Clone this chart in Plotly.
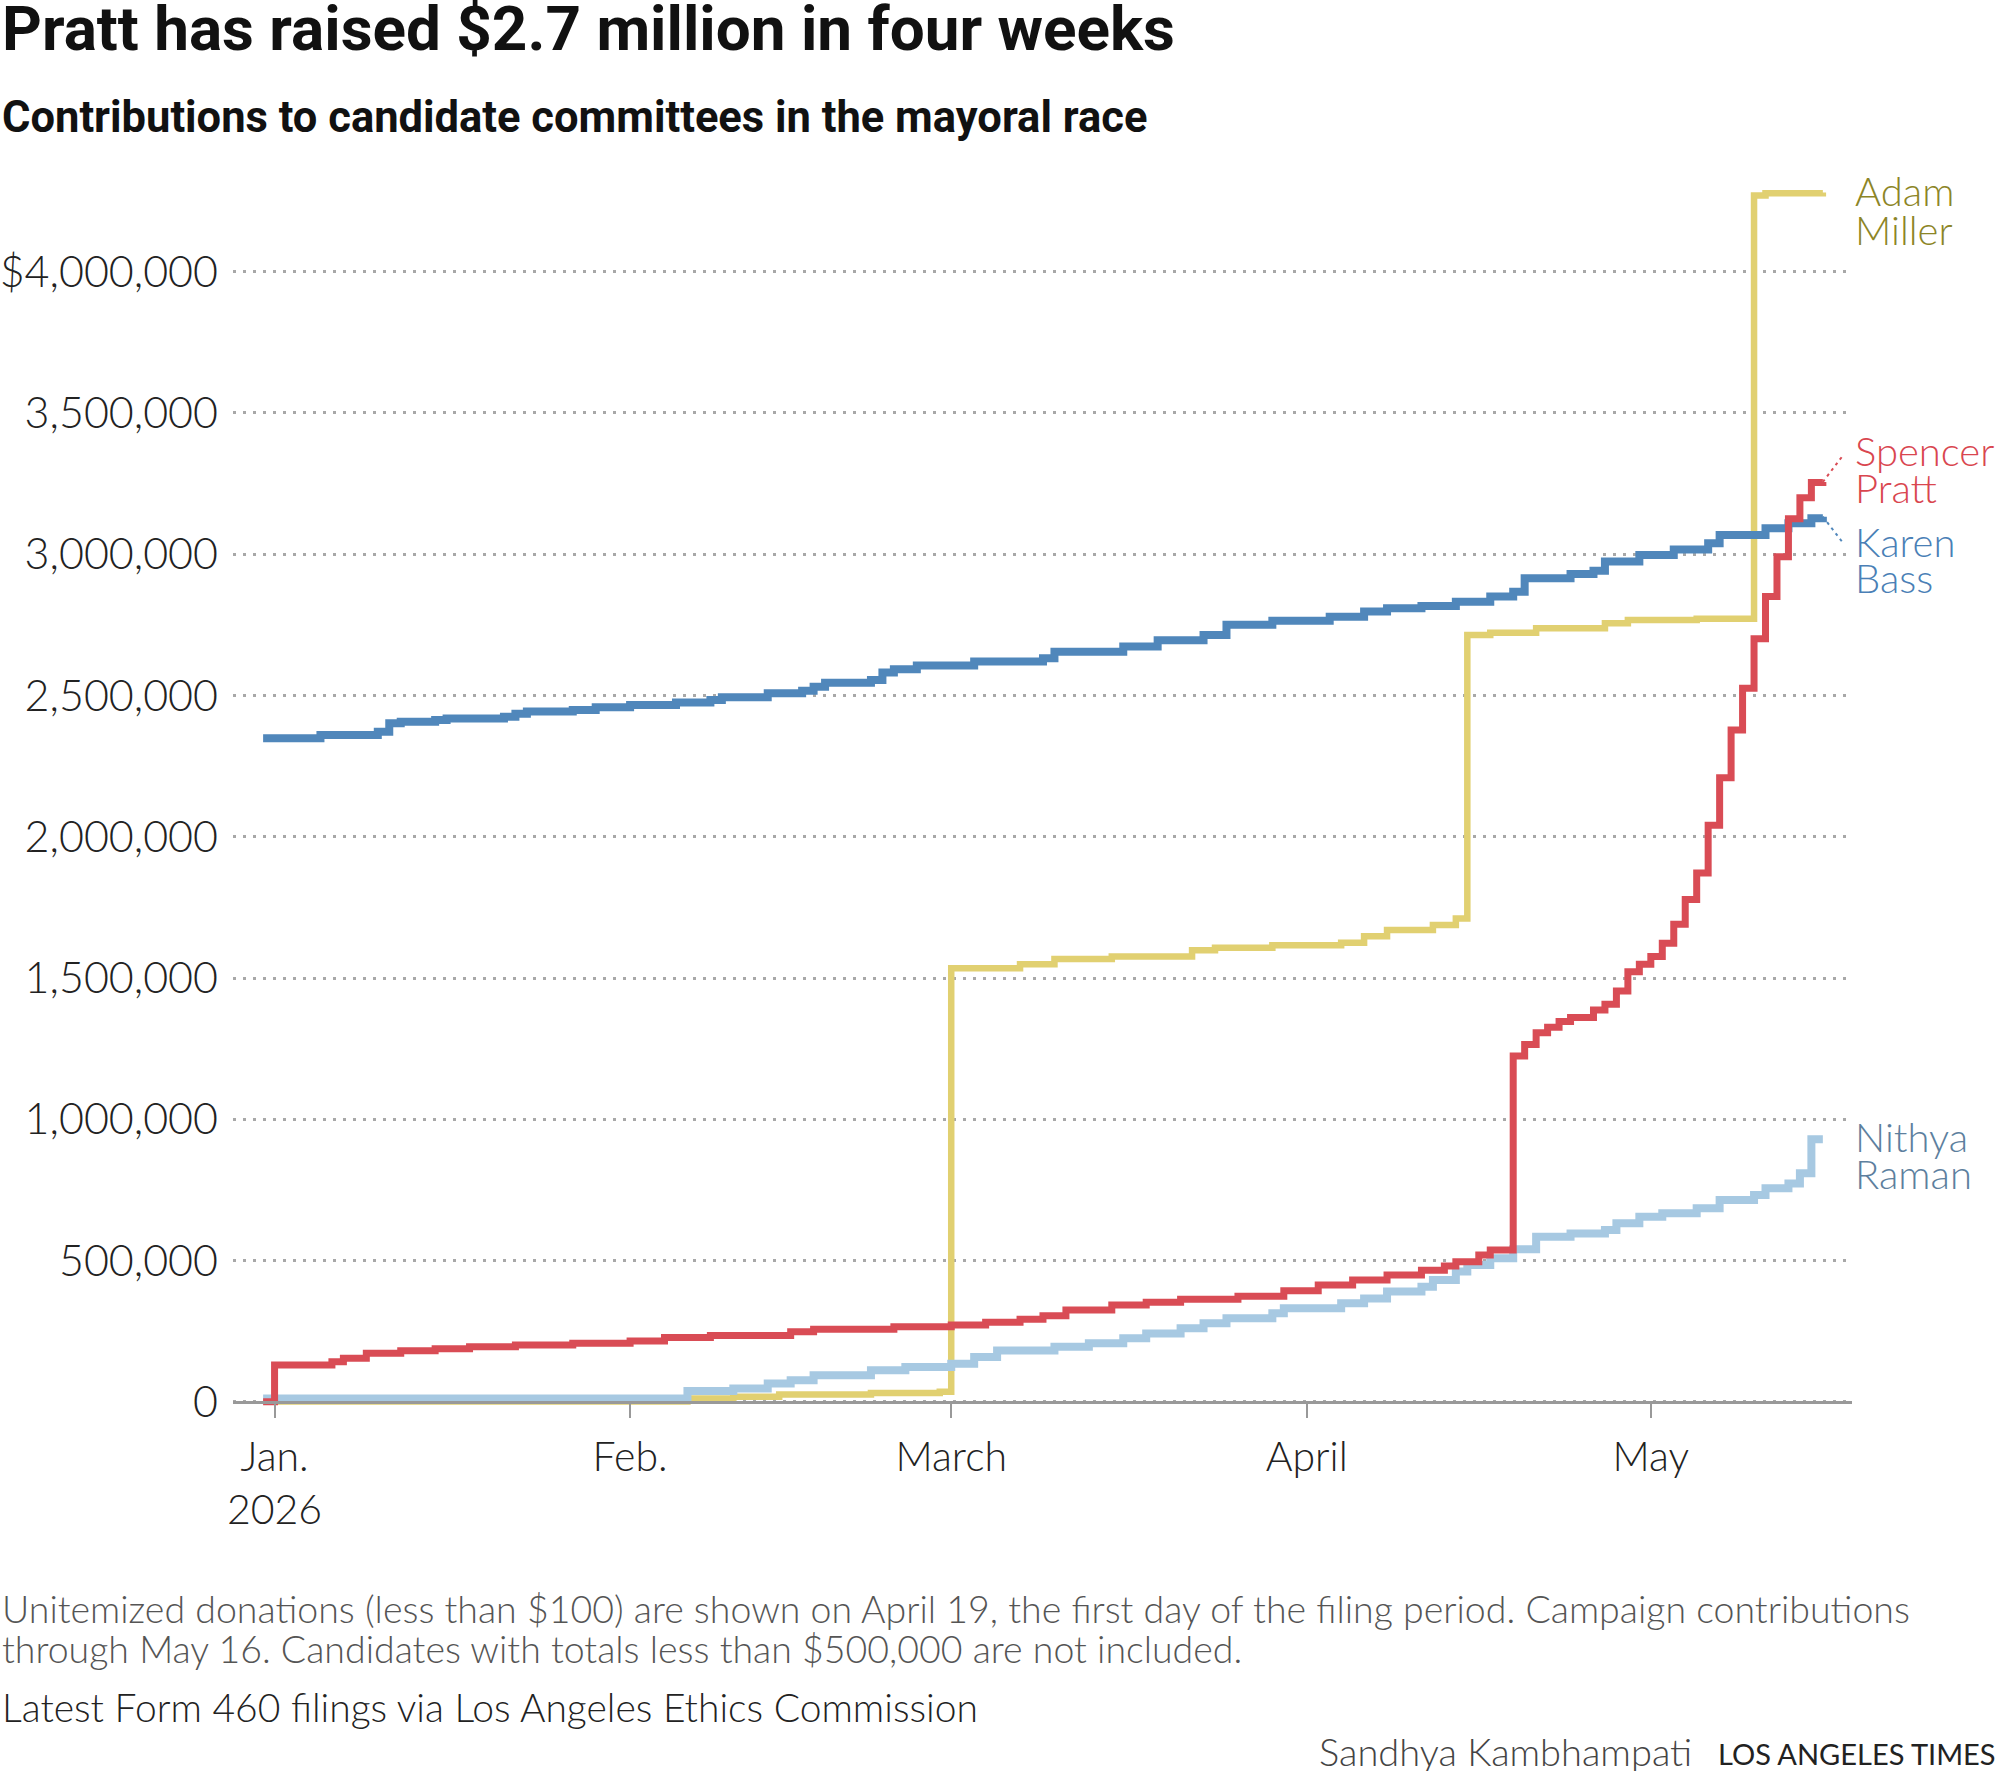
import plotly.graph_objects as go

FIG_W, FIG_H = 2000, 1771
PLOT_L, PLOT_R = 233, 1852
PLOT_T, PLOT_B = 180, 1420
AXIS_Y = 1401.8
Y_PER_PX = 500000 / 141.26

BODY_FONT = "Lato"
HEAD_FONT = "Roboto"

bass_dates = [
    "2025-12-31", "2026-01-05", "2026-01-10", "2026-01-11", "2026-01-12", "2026-01-15",
    "2026-01-16", "2026-01-21", "2026-01-22", "2026-01-23", "2026-01-27", "2026-01-29",
    "2026-02-01", "2026-02-05", "2026-02-08", "2026-02-09", "2026-02-13", "2026-02-16",
    "2026-02-17", "2026-02-18", "2026-02-22", "2026-02-23", "2026-02-24", "2026-02-26",
    "2026-03-03", "2026-03-09", "2026-03-10", "2026-03-16", "2026-03-19", "2026-03-23",
    "2026-03-25", "2026-03-29", "2026-04-03", "2026-04-06", "2026-04-08", "2026-04-11",
    "2026-04-14", "2026-04-17", "2026-04-19", "2026-04-20", "2026-04-24", "2026-04-26",
    "2026-04-27", "2026-04-30", "2026-05-03", "2026-05-06", "2026-05-07", "2026-05-11",
    "2026-05-13", "2026-05-15", "2026-05-16",
]
bass_totals = [
    2349000, 2360000, 2372000, 2402000, 2407000, 2413000,
    2419000, 2425000, 2435000, 2443000, 2449000, 2458000,
    2466000, 2475000, 2484000, 2494000, 2508000, 2517000,
    2531000, 2545000, 2555000, 2581000, 2593000, 2606000,
    2620000, 2632000, 2655000, 2673000, 2696000, 2714000,
    2750000, 2765000, 2779000, 2797000, 2809000, 2817000,
    2832000, 2850000, 2867000, 2915000, 2930000, 2942000,
    2974000, 2997000, 3017000, 3039000, 3068000, 3092000,
    3110000, 3127000, 3133000,
]

pratt_dates = [
    "2025-12-31", "2026-01-01", "2026-01-06", "2026-01-07", "2026-01-09", "2026-01-12",
    "2026-01-15", "2026-01-18", "2026-01-22", "2026-01-27", "2026-02-01", "2026-02-04",
    "2026-02-08", "2026-02-15", "2026-02-17", "2026-02-24", "2026-03-01", "2026-03-04",
    "2026-03-07", "2026-03-09", "2026-03-11", "2026-03-15", "2026-03-18", "2026-03-21",
    "2026-03-26", "2026-03-30", "2026-04-02", "2026-04-05", "2026-04-08", "2026-04-11",
    "2026-04-13", "2026-04-14", "2026-04-16", "2026-04-17", "2026-04-19", "2026-04-20",
    "2026-04-21", "2026-04-22", "2026-04-23", "2026-04-24", "2026-04-26", "2026-04-27",
    "2026-04-28", "2026-04-29", "2026-04-30", "2026-05-01", "2026-05-02", "2026-05-03",
    "2026-05-04", "2026-05-05", "2026-05-06", "2026-05-07", "2026-05-08", "2026-05-09",
    "2026-05-10", "2026-05-11", "2026-05-12", "2026-05-13", "2026-05-14", "2026-05-15",
    "2026-05-16",
]
pratt_totals = [
    0, 130000, 142000, 154000, 172000, 181000,
    188000, 195000, 201000, 207000, 215000, 228000,
    235000, 248000, 257000, 266000, 272000, 282000,
    292000, 305000, 325000, 343000, 352000, 363000,
    374000, 393000, 413000, 431000, 449000, 466000,
    481000, 496000, 520000, 537000, 1224000, 1265000,
    1306000, 1326000, 1346000, 1360000, 1387000, 1407000,
    1454000, 1522000, 1549000, 1576000, 1623000, 1690000,
    1778000, 1872000, 2041000, 2209000, 2378000, 2526000,
    2701000, 2850000, 2991000, 3126000, 3200000, 3254000,
    3256000,
]

miller_dates = [
    "2026-01-01", "2026-02-06", "2026-02-10", "2026-02-14", "2026-02-22", "2026-02-28",
    "2026-03-01", "2026-03-07", "2026-03-10", "2026-03-15", "2026-03-22", "2026-03-24",
    "2026-03-29", "2026-04-04", "2026-04-06", "2026-04-08", "2026-04-12", "2026-04-14",
    "2026-04-15", "2026-04-17", "2026-04-21", "2026-04-27", "2026-04-29", "2026-05-05",
    "2026-05-10", "2026-05-11", "2026-05-16",
]
miller_totals = [
    1000, 12000, 18000, 26000, 31000, 36000,
    1535000, 1549000, 1567000, 1576000, 1598000, 1607000,
    1616000, 1625000, 1648000, 1670000, 1688000, 1711000,
    2714000, 2722000, 2738000, 2756000, 2767000, 2772000,
    4270000, 4278000, 4280000,
]

raman_dates = [
    "2025-12-31", "2026-02-06", "2026-02-10", "2026-02-13", "2026-02-15", "2026-02-17",
    "2026-02-22", "2026-02-25", "2026-03-01", "2026-03-03", "2026-03-05", "2026-03-10",
    "2026-03-13", "2026-03-16", "2026-03-18", "2026-03-21", "2026-03-23", "2026-03-25",
    "2026-03-29", "2026-03-30", "2026-04-04", "2026-04-06", "2026-04-08", "2026-04-11",
    "2026-04-12", "2026-04-14", "2026-04-15", "2026-04-17", "2026-04-19", "2026-04-21",
    "2026-04-24", "2026-04-27", "2026-04-28", "2026-04-30", "2026-05-02", "2026-05-05",
    "2026-05-07", "2026-05-10", "2026-05-11", "2026-05-13", "2026-05-14", "2026-05-15",
    "2026-05-16",
]
raman_totals = [
    12000, 38000, 47000, 65000, 76000, 94000,
    112000, 123000, 135000, 159000, 182000, 195000,
    207000, 225000, 242000, 260000, 278000, 296000,
    313000, 331000, 349000, 366000, 390000, 407000,
    431000, 461000, 484000, 508000, 540000, 584000,
    596000, 608000, 632000, 655000, 667000, 685000,
    714000, 732000, 756000, 773000, 809000, 929000,
    929000,
]

y_ticks = [0, 500000, 1000000, 1500000, 2000000, 2500000, 3000000, 3500000, 4000000]
y_tick_text = ["0", "500,000", "1,000,000", "1,500,000", "2,000,000",
               "2,500,000", "3,000,000", "3,500,000", "$4,000,000"]
x_ticks = ["2026-01-01", "2026-02-01", "2026-03-01", "2026-04-01", "2026-05-01"]
x_tick_text = ["Jan.<br>2026", "Feb.", "March", "April", "May"]

# label lines: (text, colour, value the line is centred on)
labels = [
    ("Adam", "#8c8526", 4284000),
    ("Miller", "#8c8526", 4149000),
    ("Spencer", "#d9464f", 3364000),
    ("Pratt", "#d9464f", 3234000),
    ("Karen", "#4a7fb6", 3045000),
    ("Bass", "#4a7fb6", 2916000),
    ("Nithya", "#5d7f9e", 939000),
    ("Raman", "#5d7f9e", 808000),
]


def px_x(px):
    return (px - PLOT_L) / (PLOT_R - PLOT_L)


def px_y(py):
    return (PLOT_B - py) / (PLOT_B - PLOT_T)


fig = go.Figure()

series = [
    (miller_dates, miller_totals, "#e1d071", 6.5),
    (raman_dates, raman_totals, "#a7c9e2", 8),
    (bass_dates, bass_totals, "#5087bb", 8),
    (pratt_dates, pratt_totals, "#d94c55", 7),
]
for dates, totals, color, width in series:
    fig.add_trace(
        go.Scatter(
            x=dates,
            y=totals,
            mode="lines",
            line=dict(shape="hv", color=color, width=width),
            hoverinfo="skip",
            showlegend=False,
        )
    )

# dotted leaders from the last points to the Pratt / Bass labels
leaders = [
    (pratt_dates[-1], pratt_totals[-1], 3345000, "#d94c55"),
    (bass_dates[-1], bass_totals[-1], 3045000, "#5087bb"),
]
for d, v, v_end, color in leaders:
    fig.add_shape(
        type="line",
        xref="x",
        yref="y",
        x0=d,
        y0=v,
        x1="2026-05-17 16:00",
        y1=v_end,
        line=dict(color=color, width=2, dash="3px,4px"),
    )

annotations = []
for text, color, yv in labels:
    annotations.append(
        dict(
            text=text,
            xref="paper",
            yref="y",
            x=px_x(1853),
            y=yv,
            xanchor="left",
            yanchor="middle",
            showarrow=False,
            font=dict(family=BODY_FONT, size=40, color=color, weight=300),
        )
    )

annotations += [
    dict(
        text="<b>Pratt has raised $2.7 million in four weeks</b>",
        xref="paper", yref="paper", x=px_x(0), y=px_y(29),
        xanchor="left", yanchor="middle", showarrow=False,
        font=dict(family=HEAD_FONT, size=62, color="#111111"),
    ),
    dict(
        text="<b>Contributions to candidate committees in the mayoral race</b>",
        xref="paper", yref="paper", x=px_x(0), y=px_y(118),
        xanchor="left", yanchor="middle", showarrow=False,
        font=dict(family=HEAD_FONT, size=43.5, color="#111111"),
    ),
    dict(
        text="Unitemized donations (less than $100) are shown on April 19, the first day of the filing period. Campaign contributions",
        xref="paper", yref="paper", x=px_x(0), y=px_y(1608),
        xanchor="left", yanchor="middle", showarrow=False,
        font=dict(family=BODY_FONT, size=37.5, color="#555555", weight=300),
    ),
    dict(
        text="through May 16. Candidates with totals less than $500,000 are not included.",
        xref="paper", yref="paper", x=px_x(0), y=px_y(1649),
        xanchor="left", yanchor="middle", showarrow=False,
        font=dict(family=BODY_FONT, size=37.5, color="#555555", weight=300),
    ),
    dict(
        text="Latest Form 460 filings via Los Angeles Ethics Commission",
        xref="paper", yref="paper", x=px_x(0), y=px_y(1707),
        xanchor="left", yanchor="middle", showarrow=False,
        font=dict(family=BODY_FONT, size=39, color="#222222", weight=300),
    ),
    dict(
        text="Sandhya Kambhampati",
        xref="paper", yref="paper", x=px_x(1694), y=px_y(1751),
        xanchor="right", yanchor="middle", showarrow=False,
        font=dict(family=BODY_FONT, size=38, color="#444444", weight=300),
    ),
    dict(
        text="LOS ANGELES TIMES",
        xref="paper", yref="paper", x=px_x(1998), y=px_y(1753),
        xanchor="right", yanchor="middle", showarrow=False,
        font=dict(family=BODY_FONT, size=29, color="#222222"),
    ),
]

fig.update_layout(
    width=FIG_W,
    height=FIG_H,
    margin=dict(l=PLOT_L, r=FIG_W - PLOT_R, t=PLOT_T, b=FIG_H - PLOT_B, autoexpand=False),
    paper_bgcolor="white",
    plot_bgcolor="white",
    showlegend=False,
    annotations=annotations,
    xaxis=dict(
        type="date",
        range=["2025-12-28 09:00", "2026-05-18 13:00"],
        anchor="free",
        position=px_y(AXIS_Y),
        tickvals=x_ticks,
        ticktext=x_tick_text,
        ticks="outside",
        ticklen=14,
        tickwidth=2,
        tickcolor="#999999",
        showline=True,
        linecolor="#999999",
        linewidth=3,
        showgrid=False,
        zeroline=False,
        ticklabelstandoff=4,
        tickfont=dict(family=BODY_FONT, size=41, color="#222222", weight=300),
    ),
    yaxis=dict(
        range=[-(PLOT_B - AXIS_Y) * Y_PER_PX, (AXIS_Y - PLOT_T) * Y_PER_PX],
        tickvals=y_ticks,
        ticktext=y_tick_text,
        ticks="",
        showgrid=True,
        gridcolor="#a8a8a8",
        gridwidth=2.5,
        griddash="3px,7px",
        zeroline=False,
        showline=False,
        ticklabelstandoff=14,
        tickfont=dict(family=BODY_FONT, size=43, color="#222222", weight=300),
    ),
)

fig.write_html(
    "out.html",
    config={"displayModeBar": False},
    post_script="document.body.style.margin='0';document.body.style.overflow='hidden';",
)
